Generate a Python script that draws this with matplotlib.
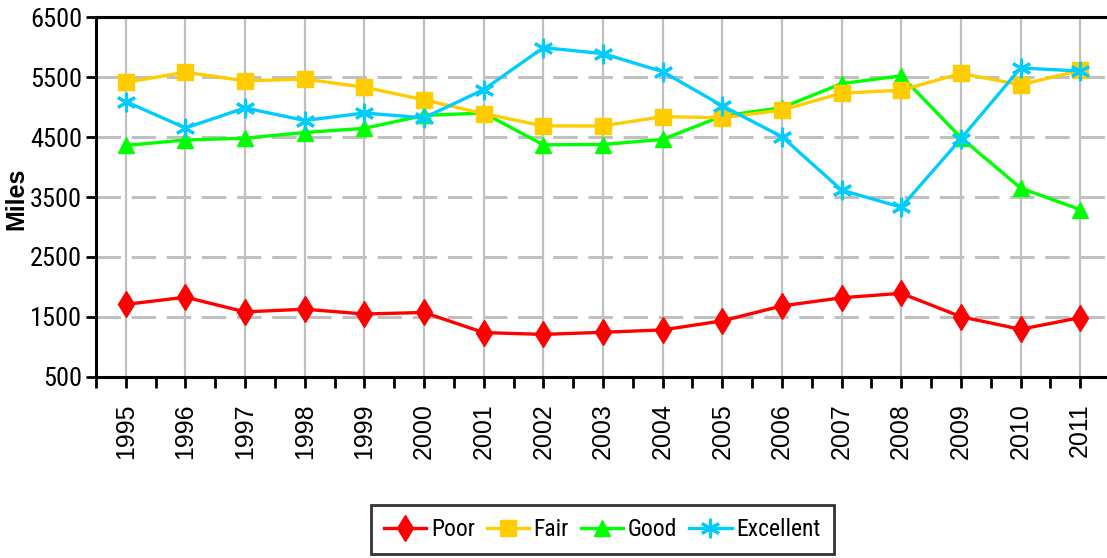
import matplotlib
matplotlib.use("Agg")
import matplotlib.pyplot as plt
import numpy as np

years = [str(y) for y in range(1995, 2012)]
poor = [1710, 1830, 1585, 1630, 1550, 1575, 1240, 1210, 1245, 1285, 1435,
        1685, 1820, 1895, 1505, 1295, 1490]
fair = [5410, 5580, 5435, 5465, 5330, 5120, 4890, 4685, 4685, 4840, 4820,
        4950, 5230, 5280, 5560, 5370, 5610]
good = [4360, 4450, 4480, 4575, 4645, 4860, 4900, 4370, 4375, 4460, 4850,
        4990, 5390, 5520, 4490, 3650, 3290]
excellent = [5090, 4650, 4985, 4775, 4900, 4820, 5290, 5990, 5890, 5590, 5020,
             4505, 3615, 3330, 4470, 5650, 5600]

# condensed face for the y ticks and legend, like the Arial Narrow in the original
narrow = ["Arial Narrow", "Roboto Condensed", "PT Sans Narrow", "Archivo Narrow",
          "Open Sans Condensed", "Liberation Sans", "DejaVu Sans"]
regular = ["Liberation Sans", "DejaVu Sans"]

fig = plt.figure(figsize=(11.07, 5.58), dpi=100)
ax = fig.add_axes([0.0867, 0.3244, 0.916, 0.6451])

x = np.arange(len(years))
lw = 2.4
ax.plot(x, poor, color="#FF0000", lw=lw, marker="d", markersize=13, label="Poor", zorder=5)
ax.plot(x, fair, color="#FFCC00", lw=lw, marker="s", markersize=11, label="Fair", zorder=4)
ax.plot(x, good, color="#00FF00", lw=lw, marker="^", markersize=12, label="Good", zorder=3)
ax.plot(x, excellent, color="#00CCFF", lw=lw, marker=(6, 2, 0), markersize=14,
        markeredgewidth=2.2, label="Excellent", zorder=6)

ax.set_xlim(-0.5, len(years) - 0.5)
ax.set_ylim(500, 6500)
ax.set_yticks(range(500, 6501, 1000))
ax.set_xticks(x)
ax.set_xticks(np.arange(-0.5, len(years), 1.0), minor=True)
ax.set_xticklabels(years, rotation=90, fontsize=18, family=regular)
for lab in ax.get_yticklabels():
    lab.set_family(narrow)
    lab.set_fontsize(19)

ax.yaxis.grid(True, color="#C0C0C0", lw=2.2, linestyle=(0, (8, 3.5)))
ax.xaxis.grid(True, color="#C0C0C0", lw=1.6)
ax.set_axisbelow(True)

for side in ["left", "bottom", "top"]:
    ax.spines[side].set_linewidth(2.2)
    ax.spines[side].set_color("black")
ax.spines["right"].set_visible(False)

ax.tick_params(axis="x", which="both", length=8, width=2, direction="out")
ax.tick_params(axis="x", which="major", pad=11)
ax.tick_params(axis="y", length=7, width=2, direction="out", pad=3)

ax.set_ylabel("Miles", fontsize=18, fontweight="bold", family=regular)
ax.yaxis.set_label_coords(-0.067, 0.495)

leg = fig.legend(loc="center", bbox_to_anchor=(0.544, 0.051), ncol=4,
                 frameon=True, fancybox=False, edgecolor="black",
                 prop={"family": narrow, "size": 17},
                 handlelength=1.8, handletextpad=0.2, columnspacing=0.5,
                 borderpad=0.55, borderaxespad=0)
leg.get_frame().set_linewidth(2)

fig.savefig("out.png", dpi=100)
